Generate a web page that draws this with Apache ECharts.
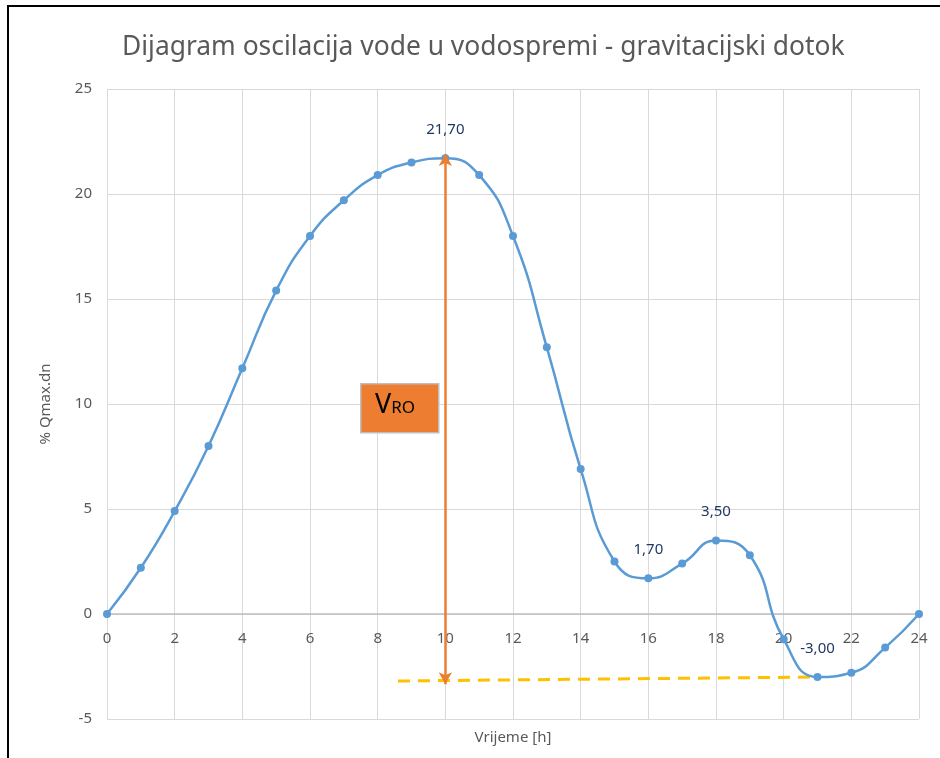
<!DOCTYPE html>
<html>
<head>
<meta charset="utf-8">
<script src="https://cdn.jsdelivr.net/npm/echarts@6/dist/echarts.min.js"></script>
<style>
  html, body { margin: 0; padding: 0; background: #fff; }
  #main { width: 940px; height: 758px; position: relative; }
  #frame { position: absolute; left: 7px; top: 5px; width: 933px; height: 753px;
           border-top: 2px solid #000; border-left: 2px solid #000; pointer-events: none; box-sizing: border-box; }
</style>
</head>
<body>
<div id="main"></div>
<div id="frame"></div>
<script>
// sati i postotak Qmax.dn
var hours = [0, 1, 2, 3, 4, 5, 6, 7, 8, 9, 10, 11, 12, 13, 14, 15, 16, 17, 18, 19, 20, 21, 22, 23, 24];
var values = [0, 2.2, 4.9, 8.0, 11.7, 15.4, 18.0, 19.7, 20.9, 21.5, 21.7, 20.9, 18.0, 12.7, 6.9, 2.5, 1.7, 2.4, 3.5, 2.8, -1.2, -3.0, -2.8, -1.6, 0];
var labelledHours = [10, 16, 18, 21];
var xTicks = [0, 24, 2];   // min, max, interval
var yTicks = [-5, 25, 5];
// strelica V_RO i crtkana linija minimuma
var vroArrow = [[10, 21.9], [10, -3.35]];
var minLine = [[8.6, -3.19], [21, -3.0]];

var myChart = echarts.init(document.getElementById('main'));

var lineData = hours.map(function (h, i) { return [h, values[i]]; });

var option = {
  animation: false,
  title: {
    text: 'Dijagram oscilacija vode u vodospremi - gravitacijski dotok',
    left: 117,
    top: 29,
    textStyle: { fontFamily: 'Noto Sans', fontSize: 26.4, fontWeight: 'normal', color: '#595959' }
  },
  grid: { left: 107, right: 21, top: 89, bottom: 39, containLabel: false, outerBoundsMode: 'none' },
  xAxis: {
    type: 'value',
    min: xTicks[0], max: xTicks[1], interval: xTicks[2],
    offset: -105,   // os je na y = 0
    name: 'Vrijeme [h]',
    nameLocation: 'middle',
    nameGap: 116,
    nameTextStyle: { fontFamily: 'Noto Sans', fontSize: 15, color: '#595959' },
    axisLine: { onZero: false, lineStyle: { color: '#bfbfbf', width: 1.5 } },
    axisTick: { show: false },
    axisLabel: { margin: 17, fontFamily: 'Noto Sans', fontSize: 15, color: '#595959' },
    splitLine: { show: true, lineStyle: { color: '#d9d9d9', width: 1 } }
  },
  yAxis: {
    type: 'value',
    min: yTicks[0], max: yTicks[1], interval: yTicks[2],
    name: '% Qmax.dn',
    nameLocation: 'middle',
    nameGap: 54,
    nameTextStyle: { fontFamily: 'Noto Sans', fontSize: 15, color: '#595959' },
    axisLine: { show: false },
    axisTick: { show: false },
    axisLabel: { margin: 15, fontFamily: 'Noto Sans', fontSize: 15, color: '#595959' },
    splitLine: { show: true, lineStyle: { color: '#d9d9d9', width: 1 } }
  },
  series: [
    {
      name: 'minimum',
      type: 'line',
      data: minLine,
      symbol: 'none',
      silent: true,
      lineStyle: { color: '#ffc000', width: 3, type: [12, 8] },
      z: 3
    },
    {
      name: 'oscilacije',
      type: 'line',
      data: lineData,
      smooth: 0.5,
      symbol: 'circle',
      symbolSize: 8,
      lineStyle: { color: '#5b9bd5', width: 2.5 },
      itemStyle: { color: '#5b9bd5' },
      label: {
        show: true,
        position: 'top',
        distance: 17,
        fontFamily: 'Noto Sans',
        fontSize: 15,
        color: '#203864',
        formatter: function (p) {
          if (labelledHours.indexOf(p.value[0]) < 0) return '';
          return p.value[1].toFixed(2).replace('.', ',');
        }
      },
      z: 4
    },
    {
      name: 'VRO',
      type: 'line',
      data: [],
      markLine: {
        silent: true,
        symbol: ['arrow', 'arrow'],
        symbolSize: [10, 12],
        label: { show: false },
        lineStyle: { color: '#ed7d31', width: 2.5, type: 'solid' },
        data: [[{ coord: vroArrow[0] }, { coord: vroArrow[1] }]]
      },
      z: 5
    }
  ],
  graphic: [
    {
      type: 'rect',
      left: 360, top: 383,
      shape: { width: 78, height: 49 },
      style: { fill: '#ed7d31', stroke: '#bfbfbf', lineWidth: 1.5 },
      z: 10
    },
    {
      type: 'text',
      left: 375, top: 392,
      style: {
        text: '{a|V}{b|RO}',
        rich: {
          a: { fontFamily: 'Noto Sans', fontSize: 27, color: '#262626', verticalAlign: 'bottom' },
          b: { fontFamily: 'Noto Sans', fontSize: 17, color: '#262626', verticalAlign: 'bottom', padding: [0, 0, 2, 0] }
        }
      },
      z: 11
    }
  ]
};

myChart.setOption(option);
</script>
</body>
</html>
